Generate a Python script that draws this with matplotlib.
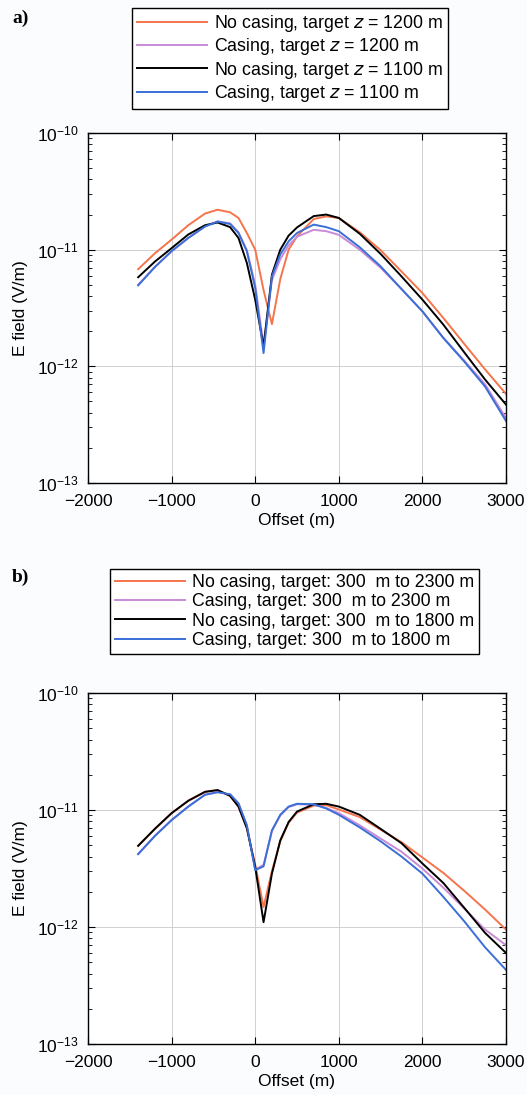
import matplotlib
matplotlib.use("Agg")
import matplotlib.pyplot as plt
import numpy as np

plt.rcParams['font.family'] = ['Liberation Sans', 'DejaVu Sans']

# offsets (m), shared by all curves
offset = [-1400, -1200, -1000, -800, -600, -450, -300, -200, -100, 0, 100, 200,
          300, 400, 500, 700, 850, 1000, 1250, 1500, 1750, 2000, 2250, 2500, 2750, 3000]

# panel a, E field in pV/m
a_nocase_1200 = [6.8, 9.3, 12.2, 16.2, 20.4, 22.0, 20.9, 18.7, 13.9, 10.0, 4.5, 2.3,
                 5.6, 10.0, 13.0, 18.3, 19.3, 18.7, 14.1, 9.9, 6.5, 4.25, 2.6, 1.56, 0.94, 0.58]
a_case_1200 = [5.0, 7.1, 9.7, 12.6, 15.8, 17.5, 16.8, 14.1, 9.9, 5.0, 1.5, 5.5,
               8.3, 10.9, 12.9, 14.8, 14.4, 13.4, 10.0, 7.0, 4.6, 2.96, 1.76, 1.12, 0.70, 0.36]
a_nocase_1100 = [5.8, 7.9, 10.3, 13.5, 16.2, 17.1, 15.6, 12.6, 7.7, 3.73, 1.48, 6.1,
                 10.0, 13.2, 15.5, 19.4, 20.0, 18.7, 13.7, 9.2, 5.9, 3.73, 2.28, 1.32, 0.77, 0.47]
a_case_1100 = [4.94, 7.1, 9.7, 12.6, 15.8, 17.4, 16.6, 13.9, 9.7, 4.7, 1.3, 5.9,
               9.1, 11.8, 13.9, 16.4, 15.6, 14.4, 10.5, 7.2, 4.6, 2.96, 1.75, 1.1, 0.67, 0.34]

# panel b, E field in pV/m
b_nocase_2300 = [4.94, 6.9, 9.4, 12.0, 14.3, 14.8, 13.2, 10.7, 7.0, 3.4, 1.48, 3.0,
                 5.4, 7.8, 9.5, 10.9, 11.0, 10.1, 8.7, 6.8, 5.3, 3.93, 2.9, 2.04, 1.41, 0.95]
b_case_2300 = [4.2, 6.0, 8.2, 10.7, 13.5, 14.2, 13.6, 11.4, 7.4, 3.1, 3.4, 6.6,
               9.0, 10.6, 11.2, 11.1, 10.4, 9.4, 7.4, 5.7, 4.4, 3.16, 2.17, 1.44, 0.95, 0.70]
b_nocase_1800 = [4.94, 6.9, 9.4, 12.0, 14.3, 14.8, 13.2, 10.7, 7.0, 3.27, 1.1, 2.86,
                 5.5, 7.9, 9.7, 11.2, 11.3, 10.7, 9.1, 6.9, 5.2, 3.49, 2.38, 1.46, 0.89, 0.6]
b_case_1800 = [4.2, 6.0, 8.2, 10.7, 13.5, 14.2, 13.6, 11.4, 7.4, 3.06, 3.3, 6.7,
               9.1, 10.7, 11.3, 11.2, 10.3, 9.1, 7.1, 5.4, 4.0, 2.86, 1.81, 1.12, 0.67, 0.43]

labels_a = ["No casing, target $z$ = 1200 m", "Casing, target $z$ = 1200 m",
            "No casing, target $z$ = 1100 m", "Casing, target $z$ = 1100 m"]
labels_b = ["No casing, target: 300  m to 2300 m", "Casing, target: 300  m to 2300 m",
            "No casing, target: 300  m to 1800 m", "Casing, target: 300  m to 1800 m"]

colors = ['#f5744c', '#c98ad6', '#000000', '#3a6fd8']

fig = plt.figure(figsize=(5.27, 10.95), dpi=100)
fig.patch.set_facecolor('#fbfcfe')

W, H = 527.0, 1095.0
ax_a = fig.add_axes([88 / W, 1 - 483 / H, 418 / W, 350 / H])
ax_b = fig.add_axes([88 / W, 1 - 1044 / H, 418 / W, 351 / H])


def draw_panel(ax, series, labels, leg_box, tag, tag_y):
    x = np.array(offset)
    handles = []
    for vals, c, lab in zip(series, colors, labels):
        h, = ax.plot(x, np.array(vals) * 1e-12, color=c, lw=1.4, label=lab)
        handles.append(h)
    ax.set_yscale('log')
    ax.set_xlim(-2000, 3000)
    ax.set_ylim(1e-13, 1e-10)
    ax.set_xticks([-2000, -1000, 0, 1000, 2000, 3000])
    ax.set_facecolor('white')
    ax.grid(True, which='major', color='#d0d0d0', lw=0.7)
    ax.tick_params(which='both', direction='in', top=True, right=True, labelsize=12.5)
    ax.tick_params(which='major', length=5)
    ax.tick_params(which='minor', length=3)
    ax.tick_params(axis='x', pad=8)
    ax.tick_params(axis='y', pad=7)
    ax.set_xlabel('Offset (m)', fontsize=12.5, labelpad=3)
    ax.set_ylabel('E field (V/m)', fontsize=12.5, labelpad=6)
    for s in ax.spines.values():
        s.set_linewidth(1.0)
    leg = ax.legend(handles=handles, loc='upper left',
                    bbox_to_anchor=(leg_box[0] / W, 1 - leg_box[1] / H),
                    bbox_transform=fig.transFigure, borderaxespad=0,
                    fancybox=False, edgecolor='black', framealpha=1,
                    fontsize=12.8, handlelength=3.9, labelspacing=0.12,
                    handletextpad=0.4, borderpad=0.3)
    leg.get_frame().set_linewidth(1.0)
    fig.text(12 / W, 1 - tag_y / H, tag, fontsize=14, fontweight='bold',
             family='Liberation Serif', va='center')


draw_panel(ax_a, [a_nocase_1200, a_case_1200, a_nocase_1100, a_case_1100],
           labels_a, (132, 8), 'a)', 18)
draw_panel(ax_b, [b_nocase_2300, b_case_2300, b_nocase_1800, b_case_1800],
           labels_b, (110, 569), 'b)', 577)

fig.savefig('out.png', dpi=100, facecolor=fig.get_facecolor())
